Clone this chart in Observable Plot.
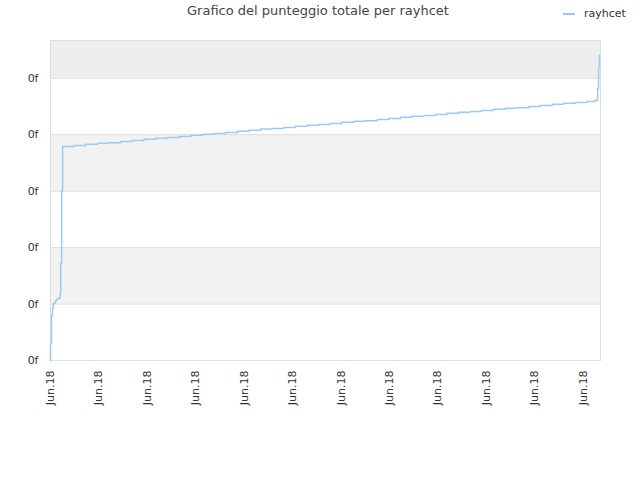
<!DOCTYPE html>
<html>
<head>
<meta charset="utf-8">
<script src="https://cdn.jsdelivr.net/npm/d3@7"></script>
<script src="https://cdn.jsdelivr.net/npm/@observablehq/plot@0.6"></script>
<style>
  body { margin: 0; background: #fff; font-family: "DejaVu Sans", sans-serif; }
  #wrap { position: relative; width: 640px; height: 480px; }
  #title { position: absolute; top: 3px; left: 0; width: 636px; text-align: center; font-size: 13px; color: #444; }
  #legend { position: absolute; top: 7px; left: 563px; font-size: 11px; color: #333; display: flex; align-items: center; }
  #legend .sw { width: 12px; height: 2px; background: #9dc9f3; margin-right: 9px; }
  svg { position: absolute; top: 0; left: 0; }
</style>
</head>
<body>
<div id="wrap">
  <div id="title">Grafico del punteggio totale per rayhcet</div>
  <div id="legend"><span class="sw"></span><span>rayhcet</span></div>
</div>
<script>
const seriesName = "rayhcet";
const seriesX = [0.00, 0.00, 0.02, 0.04, 0.06, 0.10, 0.14, 0.20, 0.21, 0.23, 0.25,
  0.49, 0.73, 0.97, 1.21, 1.45, 1.69, 1.93, 2.17, 2.41, 2.66,
  2.90, 3.14, 3.38, 3.62, 3.86, 4.10, 4.34, 4.58, 4.82, 5.06,
  5.30, 5.54, 5.78, 6.02, 6.27, 6.51, 6.75, 6.99, 7.23, 7.47,
  7.71, 7.95, 8.19, 8.43, 8.67, 8.91, 9.15, 9.39, 9.63, 9.88,
  10.12, 10.36, 10.60, 10.84, 11.08, 11.25, 11.30, 11.32, 11.34];
const seriesY = [0.00, 0.30, 0.80, 0.92, 1.01, 1.06, 1.10, 1.19, 1.72, 3.01, 3.79,
  3.81, 3.83, 3.85, 3.86, 3.88, 3.90, 3.92, 3.94, 3.95, 3.97,
  3.99, 4.01, 4.02, 4.04, 4.06, 4.08, 4.10, 4.11, 4.13, 4.15,
  4.17, 4.18, 4.20, 4.22, 4.24, 4.25, 4.27, 4.29, 4.31, 4.33,
  4.34, 4.36, 4.38, 4.40, 4.41, 4.43, 4.45, 4.47, 4.48, 4.50,
  4.52, 4.54, 4.56, 4.57, 4.59, 4.61, 4.82, 5.20, 5.41];
const xTicks = [0, 1, 2, 3, 4, 5, 6, 7, 8, 9, 10, 11];
const xTickLabels = ["Jun.18", "Jun.18", "Jun.18", "Jun.18", "Jun.18", "Jun.18",
  "Jun.18", "Jun.18", "Jun.18", "Jun.18", "Jun.18", "Jun.18"];
const yTicks = [0, 1, 2, 3, 4, 5];
const yTickLabels = ["0f", "0f", "0f", "0f", "0f", "0f"];
const xMax = 11.36;
const yMax = 5.67;

const points = seriesX.map((x, i) => ({x, y: seriesY[i]}));
const bands = [];
yTicks.forEach((t, i) => {
  if (i % 2 === 1) bands.push({y1: t, y2: i + 1 < yTicks.length ? yTicks[i + 1] : yMax, top: i + 1 >= yTicks.length});
});

const chart = Plot.plot({
  width: 640,
  height: 480,
  marginLeft: 50,
  marginRight: 40,
  marginTop: 40,
  marginBottom: 120,
  style: {fontFamily: "DejaVu Sans, sans-serif", fontSize: "11px", color: "#333", background: "transparent"},
  x: {domain: [0, xMax]},
  y: {domain: [0, yMax]},
  marks: [
    Plot.rect(bands, {y1: "y1", y2: "y2", fill: d => d.top ? "#eeeeee" : "#f2f2f2"}),
    Plot.gridY(yTicks, {stroke: "#dddddd", strokeOpacity: 1}),
    Plot.frame({stroke: "#dddddd"}),
    Plot.axisY({ticks: yTicks, tickSize: 0, tickPadding: 12, tickFormat: (d, i) => yTickLabels[i], label: null}),
    Plot.axisX({ticks: xTicks, tickSize: 0, tickPadding: 10, tickRotate: -90, tickFormat: (d, i) => xTickLabels[i], label: null}),
    Plot.line(points, {x: "x", y: "y", curve: "step-after", stroke: "#9dc9f3", strokeWidth: 1.5})
  ]
});
document.getElementById("wrap").prepend(chart);
</script>
</body>
</html>
